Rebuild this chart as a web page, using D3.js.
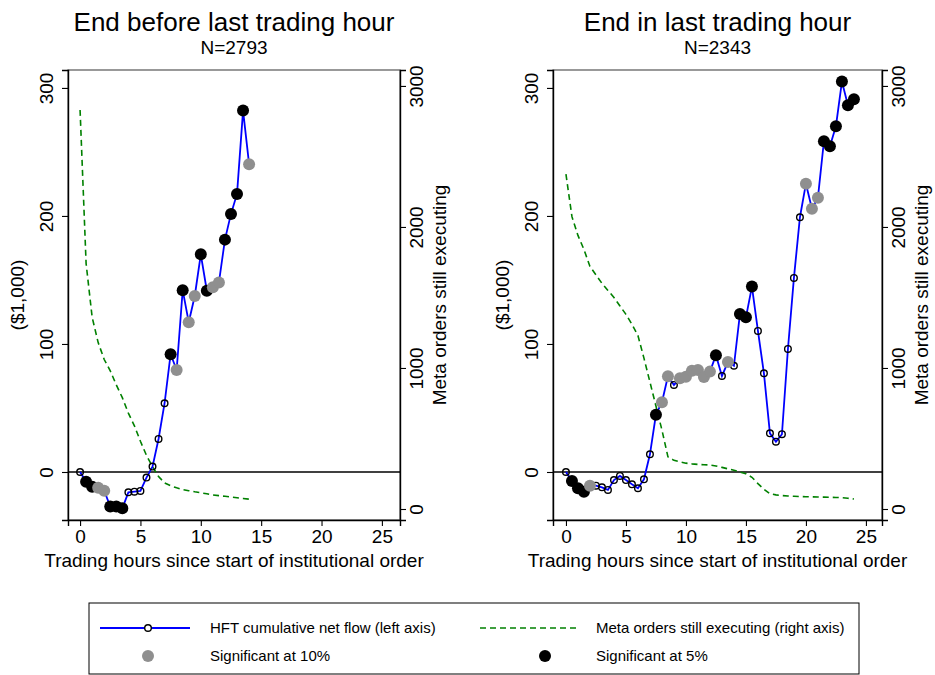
<!DOCTYPE html>
<html>
<head>
<meta charset="utf-8">
<script src="https://cdn.jsdelivr.net/npm/d3@7"></script>
<style>
  body { margin: 0; background: #fff; }
  svg { font-family: "Liberation Sans", Arial, Helvetica, sans-serif; }
</style>
</head>
<body>
<svg width="935" height="675"></svg>
<script>
// LEFT PANEL: end before last trading hour
var leftHours = [0, 0.5, 1, 1.5, 2, 2.5, 3, 3.5, 4, 4.5, 5, 5.5, 6, 6.5, 7, 7.5, 8, 8.5, 9, 9.5,
  10, 10.5, 11, 11.5, 12, 12.5, 13, 13.5, 14];
var leftFlow = [0, -7.6, -11.5, -12.3, -14.6, -27, -27, -28.4, -15.9, -15.4, -14.8, -4.4, 4.2, 25.8, 53.7,
  92, 79.7, 142, 117, 137.5, 170, 141.6, 144.3, 148, 181.5, 201.6, 217.2, 282.3, 240.4];
// 0 = not significant, 1 = significant at 10%, 2 = significant at 5%
var leftSig = [0, 2, 2, 1, 1, 2, 2, 2, 0, 0, 0, 0, 0, 0, 0,
  2, 1, 2, 1, 1, 2, 2, 1, 1, 2, 2, 2, 2, 1];
var leftMeta = [2830, 1740, 1360, 1180, 1060, 980, 880, 790, 680, 590, 480, 380, 300, 230, 185,
  165, 150, 138, 130, 122, 115, 108, 100, 95, 90, 85, 80, 75, 70];

// RIGHT PANEL: end in last trading hour
var rightHours = [0, 0.5, 1, 1.5, 2, 2.5, 3, 3.5, 4, 4.5, 5, 5.5, 6, 6.5, 7, 7.5, 8, 8.5, 9, 9.5,
  10, 10.5, 11, 11.5, 12, 12.5, 13, 13.5, 14, 14.5, 15, 15.5, 16, 16.5, 17, 17.5, 18, 18.5, 19, 19.5,
  20, 20.5, 21, 21.5, 22, 22.5, 23, 23.5, 24];
var rightFlow = [0, -7, -12.7, -15.4, -10.7, -10.7, -12, -14, -6.3, -3.1, -6.3, -9.6, -12.7, -5.7, 13.8,
  44.8, 54.5, 74.8, 68, 73.2, 74.4, 79, 79.7, 74.2, 78.4, 91.2, 75, 85.9, 83, 123.4,
  120.8, 144.8, 110.2, 77.1, 30.2, 23.7, 29.5, 96.1, 151.6, 199,
  225.2, 205.7, 214.3, 258.4, 254.5, 270.1, 305, 286.5, 291.2];
var rightSig = [0, 2, 2, 2, 1, 0, 0, 0, 0, 0, 0, 0, 0, 0, 0,
  2, 1, 1, 0, 1, 1, 1, 1, 1, 1, 2, 0, 1, 0, 2,
  2, 2, 0, 0, 0, 0, 0, 0, 0, 0,
  1, 1, 1, 2, 2, 2, 2, 2, 2];
var rightMeta = [2374, 2073, 1940, 1840, 1720, 1660, 1600, 1550, 1500, 1440, 1380, 1310, 1230, 1070, 900,
  730, 560, 370, 345, 335, 325, 320, 316, 314, 312, 305, 295, 285, 275, 262,
  250, 225, 180, 140, 108, 100, 95, 92, 90, 88,
  87, 86, 85, 84, 83, 82, 80, 76, 71];

var xTicks = [0, 5, 10, 15, 20, 25];
var flowTicks = [0, 100, 200, 300];
var metaTicks = [0, 1000, 2000, 3000];

var svg = d3.select("svg");

var colours = { flow: "#0000ff", meta: "#008000", sig10: "#8f8f8f", sig5: "#000000" };

// DRAW ONE PANEL
function panel(opts) {
  var top = 70, bottom = 520;

  var x = d3.scaleLinear().domain(opts.xDomain).range([opts.left, opts.right]);
  var y = d3.scaleLinear().domain([-37.5, 314]).range([bottom, top]);
  var y2 = d3.scaleLinear().domain([-78, 3113]).range([bottom, top]);

  var rows = opts.hours.map(function(h, i) {
    return { h: h, flow: opts.flow[i], sig: opts.sig[i], meta: opts.meta[i] };
  });

  var g = svg.append("g");

  // plot region outline
  g.append("rect")
    .attr("x", opts.left).attr("y", top)
    .attr("width", opts.right - opts.left).attr("height", bottom - top)
    .attr("fill", "none").attr("stroke", "#555").attr("stroke-width", 1.2);

  // zero line
  g.append("line")
    .attr("x1", opts.left).attr("x2", opts.right)
    .attr("y1", y(0)).attr("y2", y(0))
    .attr("stroke", "#000").attr("stroke-width", 1.6);

  // meta orders still executing
  g.append("path")
    .datum(rows)
    .attr("fill", "none")
    .attr("stroke", colours.meta)
    .attr("stroke-width", 1.6)
    .attr("stroke-dasharray", "6,4")
    .attr("d", d3.line().x(function(d) { return x(d.h); }).y(function(d) { return y2(d.meta); }));

  // HFT cumulative net flow
  g.append("path")
    .datum(rows)
    .attr("fill", "none")
    .attr("stroke", colours.flow)
    .attr("stroke-width", 1.8)
    .attr("d", d3.line().x(function(d) { return x(d.h); }).y(function(d) { return y(d.flow); }));

  g.selectAll(".open")
    .data(rows.filter(function(d) { return d.sig === 0; }))
    .enter().append("circle")
    .attr("cx", function(d) { return x(d.h); })
    .attr("cy", function(d) { return y(d.flow); })
    .attr("r", 3.3)
    .attr("fill", "none")
    .attr("stroke", "#000")
    .attr("stroke-width", 1.4);

  g.selectAll(".sig")
    .data(rows.filter(function(d) { return d.sig > 0; }))
    .enter().append("circle")
    .attr("cx", function(d) { return x(d.h); })
    .attr("cy", function(d) { return y(d.flow); })
    .attr("r", 6)
    .attr("fill", function(d) { return d.sig === 2 ? colours.sig5 : colours.sig10; });

  // AXES
  var ax = g.append("g")
    .attr("transform", "translate(0," + bottom + ")")
    .call(d3.axisBottom(x).tickValues(xTicks).tickSizeOuter(0).tickSize(6).tickPadding(4));
  ax.selectAll("text").attr("font-size", 19).attr("fill", "#000").attr("font-family", null);

  var ay = g.append("g")
    .attr("transform", "translate(" + opts.left + ",0)")
    .call(d3.axisLeft(y).tickValues(flowTicks).tickSizeOuter(0).tickSize(6));
  ay.selectAll("text")
    .attr("transform", "rotate(-90)")
    .attr("x", 0).attr("y", -15).attr("dy", 0)
    .attr("text-anchor", "middle")
    .attr("font-size", 19).attr("fill", "#000").attr("font-family", null);

  var ay2 = g.append("g")
    .attr("transform", "translate(" + opts.right + ",0)")
    .call(d3.axisRight(y2).tickValues(metaTicks).tickFormat(d3.format("d")).tickSizeOuter(0).tickSize(6));
  ay2.selectAll("text")
    .attr("transform", "rotate(-90)")
    .attr("x", 0).attr("y", 23).attr("dy", 0)
    .attr("text-anchor", "middle")
    .attr("font-size", 19).attr("fill", "#000").attr("font-family", null);

  [ax, ay, ay2].forEach(function(a) {
    a.select(".domain").attr("stroke", "#000").attr("stroke-width", 1.4);
    a.selectAll(".tick line").attr("stroke", "#000").attr("stroke-width", 1.1);
  });

  // ADD TEXT
  var cx = (opts.left + opts.right) / 2;
  g.append("text").text(opts.title)
    .attr("x", cx).attr("y", 31).attr("text-anchor", "middle").attr("font-size", 26);
  g.append("text").text(opts.n)
    .attr("x", cx).attr("y", 54).attr("text-anchor", "middle").attr("font-size", 19);
  g.append("text").text("Trading hours since start of institutional order")
    .attr("x", cx).attr("y", 567).attr("text-anchor", "middle").attr("font-size", 19);
  g.append("text").text("($1,000)")
    .attr("text-anchor", "middle").attr("font-size", 19)
    .attr("transform", "translate(" + (opts.left - 44) + "," + (top + bottom) / 2 + ") rotate(-90)");
  g.append("text").text("Meta orders still executing")
    .attr("text-anchor", "middle").attr("font-size", 19)
    .attr("transform", "translate(" + (opts.right + 46) + "," + (top + bottom) / 2 + ") rotate(-90)");
}

panel({ left: 68, right: 400, xDomain: [-1, 26.5], hours: leftHours, flow: leftFlow, sig: leftSig,
  meta: leftMeta, title: "End before last trading hour", n: "N=2793" });
panel({ left: 553, right: 882, xDomain: [-1.08, 26.34], hours: rightHours, flow: rightFlow, sig: rightSig,
  meta: rightMeta, title: "End in last trading hour", n: "N=2343" });

// LEGEND
var leg = svg.append("g");
leg.append("rect")
  .attr("x", 89).attr("y", 603).attr("width", 770).attr("height", 71)
  .attr("fill", "#fff").attr("stroke", "#000").attr("stroke-width", 1);

leg.append("line").attr("x1", 100).attr("x2", 190).attr("y1", 628).attr("y2", 628)
  .attr("stroke", colours.flow).attr("stroke-width", 1.8);
leg.append("circle").attr("cx", 148).attr("cy", 628).attr("r", 3.3)
  .attr("fill", "#fff").attr("stroke", "#000").attr("stroke-width", 1.4);
leg.append("line").attr("x1", 480).attr("x2", 577).attr("y1", 628).attr("y2", 628)
  .attr("stroke", colours.meta).attr("stroke-width", 1.6).attr("stroke-dasharray", "6,4");
leg.append("circle").attr("cx", 148).attr("cy", 656).attr("r", 6).attr("fill", colours.sig10);
leg.append("circle").attr("cx", 545).attr("cy", 656).attr("r", 6).attr("fill", colours.sig5);

var legText = [
  { x: 210, y: 628, t: "HFT cumulative net flow (left axis)" },
  { x: 596, y: 628, t: "Meta orders still executing (right axis)" },
  { x: 210, y: 656, t: "Significant at 10%" },
  { x: 596, y: 656, t: "Significant at 5%" }
];
leg.selectAll(".lt")
  .data(legText)
  .enter().append("text")
  .attr("x", function(d) { return d.x; })
  .attr("y", function(d) { return d.y; })
  .attr("dy", "0.35em")
  .attr("font-size", 15)
  .text(function(d) { return d.t; });
</script>
</body>
</html>
